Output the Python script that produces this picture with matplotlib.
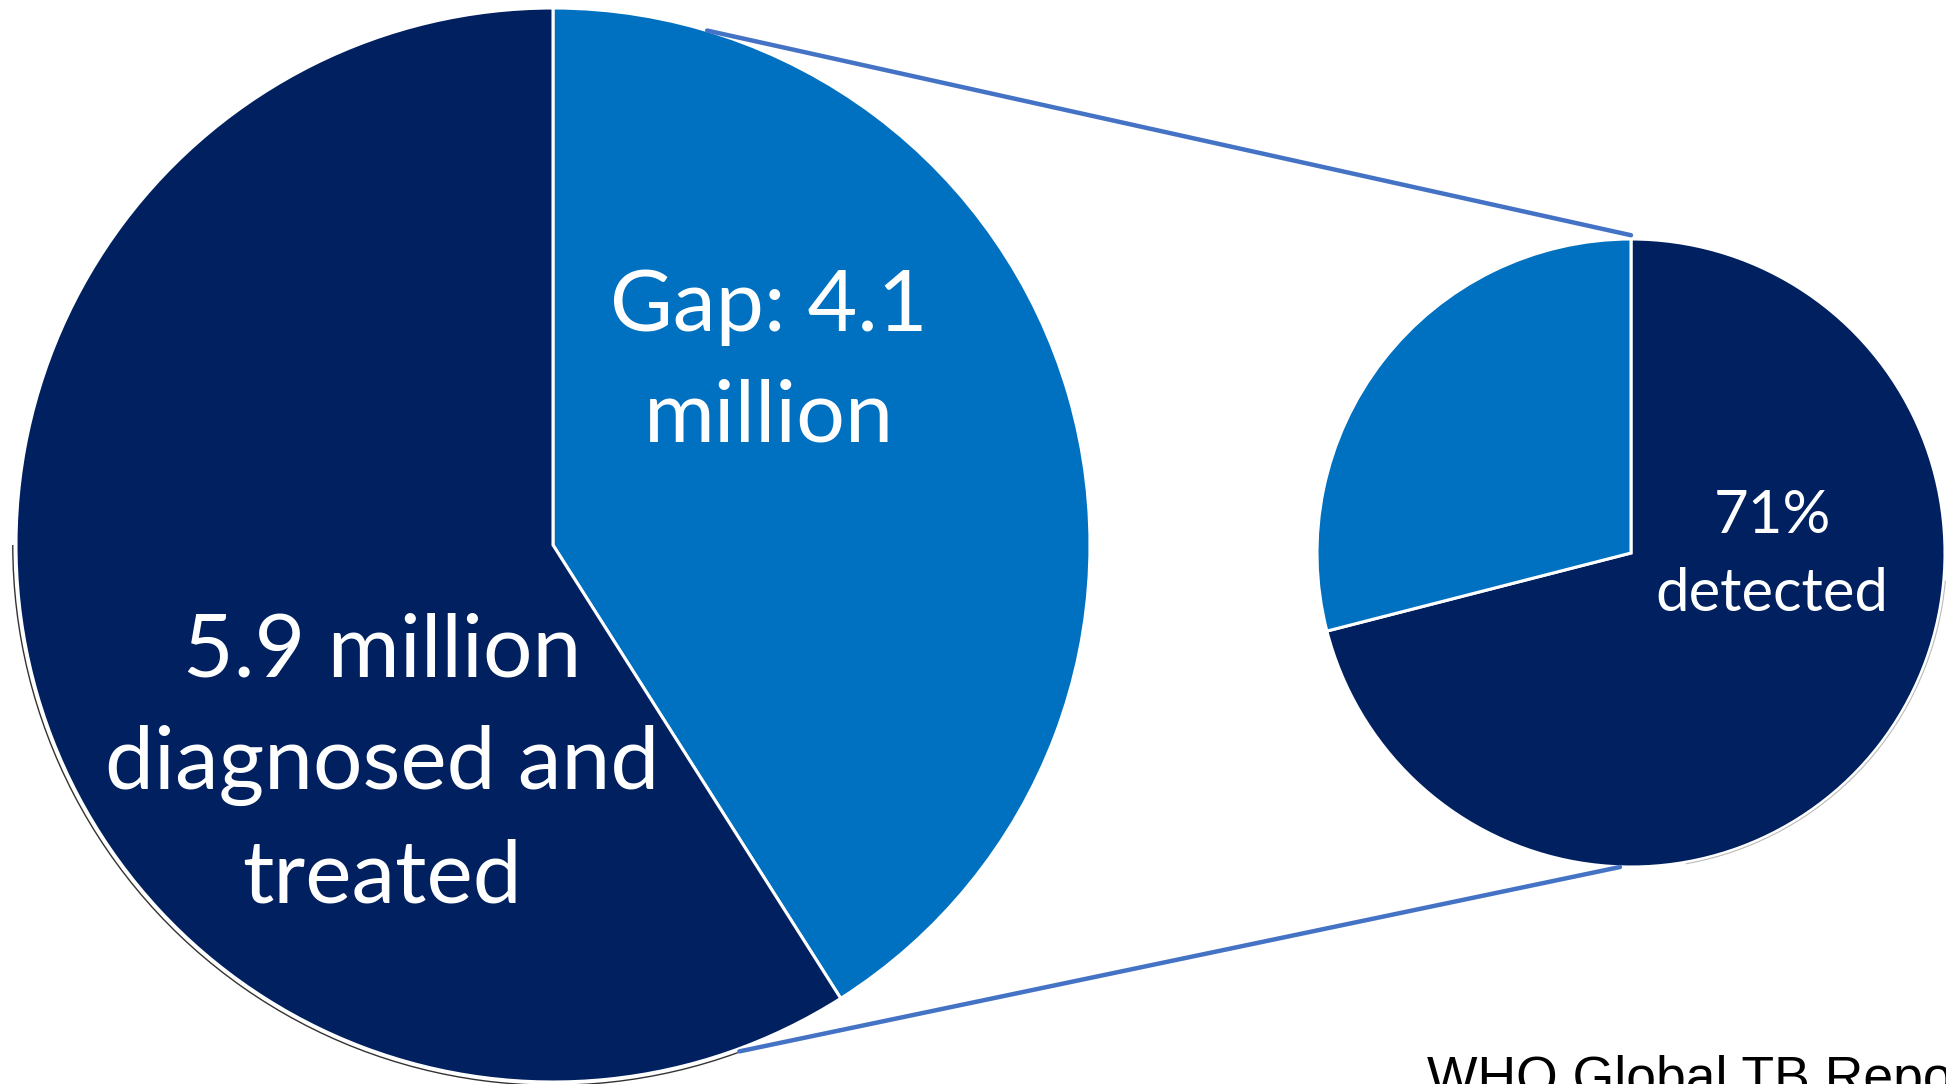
import matplotlib
matplotlib.use("Agg")
import matplotlib.pyplot as plt
from matplotlib.patches import Arc, ConnectionPatch

# TB cases (millions): gap vs diagnosed and treated
big_labels = ["Gap: 4.1\nmillion", "5.9 million\ndiagnosed and\ntreated"]
big_values = [4.1, 5.9]

# detection split of the zoomed pie
small_labels = ["71%\ndetected", ""]
small_values = [71, 29]

navy = "#002060"
blue = "#0070C0"
link = "#4472C4"

W, H = 1946, 1084
fig = plt.figure(figsize=(W / 100, H / 100), dpi=100)
fig.patch.set_facecolor("white")


def box(cx, cy, r):
    # axes rectangle in figure fraction for a circle given in pixels (y from top)
    return [(cx - r) / W, 1 - (cy + r) / H, 2 * r / W, 2 * r / H]


ax_big = fig.add_axes(box(553, 545, 537))
ax_big.pie(big_values, colors=[blue, navy], startangle=90, counterclock=False,
           radius=1, wedgeprops=dict(edgecolor="white", linewidth=2.2))
ax_big.add_patch(Arc((0, 0), 2.012, 2.012, theta1=180, theta2=290,
                     color="#333333", lw=1.0, clip_on=False))
ax_big.set_xlim(-1, 1)
ax_big.set_ylim(-1, 1)
ax_big.axis("off")

ax_small = fig.add_axes(box(1631, 553, 314))
ax_small.pie(small_values, colors=[navy, blue], startangle=90, counterclock=False,
             radius=1, wedgeprops=dict(edgecolor="white", linewidth=2.2))
ax_small.add_patch(Arc((0, 0), 2.01, 2.01, theta1=-80, theta2=-5,
                       color="#bbbbbb", lw=0.8, clip_on=False))
ax_small.set_xlim(-1, 1)
ax_small.set_ylim(-1, 1)
ax_small.axis("off")

# connector lines from the big pie to the zoomed pie
for a, b in [((0.287, 0.958), (0.0, 1.012)), ((0.347, -0.943), (-0.035, -1.0))]:
    con = ConnectionPatch(xyA=a, coordsA=ax_big.transData,
                          xyB=b, coordsB=ax_small.transData,
                          color=link, lw=3.2)
    fig.add_artist(con)

fig.text(769 / W, 1 - 362 / H, big_labels[0], ha="center", va="center",
         color="white", fontsize=62, family="Lato", linespacing=1.52)
fig.text(382 / W, 1 - 765 / H, big_labels[1], ha="center", va="center",
         color="white", fontsize=63, family="Lato", linespacing=1.52)
fig.text(1772 / W, 1 - 555 / H, small_labels[0], ha="center", va="center",
         color="white", fontsize=43, family="Lato", linespacing=1.55)

fig.text(1427 / W, 1 - 1055 / H, "WHO Global TB Report 2017", ha="left", va="top",
         color="black", fontsize=38.5, family="Liberation Sans")

fig.savefig("out.png", dpi=100, facecolor="white")
